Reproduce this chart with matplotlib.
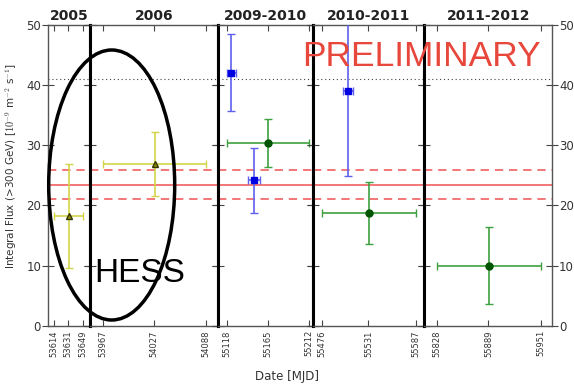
import matplotlib
matplotlib.use("Agg")
import matplotlib.pyplot as plt
from matplotlib.patches import Ellipse

plt.rcParams['font.family'] = ['DejaVu Sans']
plt.rcParams['mathtext.fontset'] = 'cm'

# observing seasons and the MJD ticks shown for each
seasons = ['2005', '2006', '2009-2010', '2010-2011', '2011-2012']
season_ticks = [
    [53614, 53631, 53649],
    [53967, 54027, 54088],
    [55118, 55165, 55212],
    [55476, 55531, 55587],
    [55828, 55889, 55951],
]
season_lims = [
    (53606.8, 53657.0),
    (53951.7, 54102.0),
    (55107.7, 55216.2),
    (55465.4, 55596.8),
    (55813.4, 55964.0),
]
width_ratios = [42, 128, 94.7, 111.6, 127.7]

# HESS points
hess_x = [53631.5, 54027.5]
hess_xerr = [17.5, 60.5]
hess_y = [18.2, 26.9]
hess_yerr = [8.6, 5.3]

# short flare windows
flare_x = [55123, 55149, 55507]
flare_xerr = [5, 7, 6]
flare_y = [42.0, 24.2, 39.0]
flare_yerr = [6.4, 5.4, 14.1]

# season averages
avg_x = [55165, 55531.5, 55889.5]
avg_xerr = [47, 55.5, 61.5]
avg_y = [30.3, 18.7, 10.0]
avg_yerr = [3.95, 5.1, 6.4]

mean_flux = 23.4
mean_flux_err = 2.4
ref_flux = 40.9

fig = plt.figure(figsize=(5.74, 3.85), dpi=100)
gs = fig.add_gridspec(1, 5, width_ratios=width_ratios, wspace=0,
                      left=48 / 574, right=552 / 574,
                      top=1 - 24.5 / 385, bottom=1 - 326 / 385)
axes = [fig.add_subplot(gs[0, i]) for i in range(5)]

for i, ax in enumerate(axes):
    ax.axhline(mean_flux, color='#f06060', lw=1.2, zorder=1)
    for s in (-1, 1):
        ax.axhline(mean_flux + s * mean_flux_err, color='#f06060', lw=1.2,
                   ls=(0, (5, 3.5)), zorder=1)
    ax.axhline(ref_flux, color='#444444', lw=0.8, ls=(0, (1, 2.5)), zorder=1)

    ax.errorbar(hess_x, hess_y, xerr=hess_xerr, yerr=hess_yerr, fmt='^',
                color='#d4d44a', mfc='#8c8c00', mec='#333300', ms=5,
                capsize=3, elinewidth=1.2, zorder=3)
    ax.errorbar(flare_x, flare_y, xerr=flare_xerr, yerr=flare_yerr, fmt='s',
                color='#6060ee', mfc='#0000e0', mec='#0000e0', ms=5,
                capsize=3, elinewidth=1.2, zorder=3)
    ax.errorbar(avg_x, avg_y, xerr=avg_xerr, yerr=avg_yerr, fmt='o',
                color='#3ea03e', mfc='#005500', mec='#005500', ms=5,
                capsize=3, elinewidth=1.2, zorder=3)

    ax.set_xlim(*season_lims[i])
    ax.set_ylim(0, 50)
    ax.set_xticks(season_ticks[i])
    ax.set_xticklabels([str(t) for t in season_ticks[i]], rotation=90,
                       fontsize=6, color='#333333')
    ax.set_yticks(range(0, 51, 10))
    ax.tick_params(direction='in', top=True, right=True, length=4,
                   width=0.8, color='#444444', labelcolor='#333333')
    ax.tick_params(axis='x', pad=3)
    ax.tick_params(axis='y', direction='inout', length=8, labelsize=8.5,
                   pad=1)
    ax.tick_params(axis='y', labelleft=(i == 0), labelright=(i == 4))
    ax.set_title(seasons[i], fontsize=10, fontweight='bold',
                 color='#222222', pad=3)
    for side in ('top', 'bottom', 'left', 'right'):
        ax.spines[side].set_color('#555555')
        ax.spines[side].set_linewidth(1.0)
    if i > 0:
        ax.spines['left'].set_color('black')
        ax.spines['left'].set_linewidth(2.2)
    if i < 4:
        ax.spines['right'].set_color('black')
        ax.spines['right'].set_linewidth(2.2)

axes[0].set_ylabel(r'Integral Flux (>300 GeV) [$10^{-9}$ m$^{-2}$ s$^{-1}$]',
                   fontsize=7.5, color='#333333')
axes[0].yaxis.set_label_coords(-0.057 * 504 / 42, 0.53)
fig.text(0.5, 0.005, 'Date [MJD]', ha='center', va='bottom',
         fontsize=8.5, color='#333333')

# circle around the HESS points
fig.patches.append(Ellipse((111.7 / 574, 1 - 185 / 385), 126 / 574, 270 / 385,
                           fill=False, ec='black', lw=2.5,
                           transform=fig.transFigure, zorder=5))
fig.text(94 / 574, 1 - 281.7 / 385, 'HESS', fontsize=24,
         family='Liberation Sans', color='black', ha='left', va='baseline')
fig.text(301.7 / 574, 1 - 66 / 385, 'PRELIMINARY', fontsize=25.5,
         family='Liberation Sans', color='#e8473c', ha='left', va='baseline')

fig.savefig('out.png', dpi=100)
